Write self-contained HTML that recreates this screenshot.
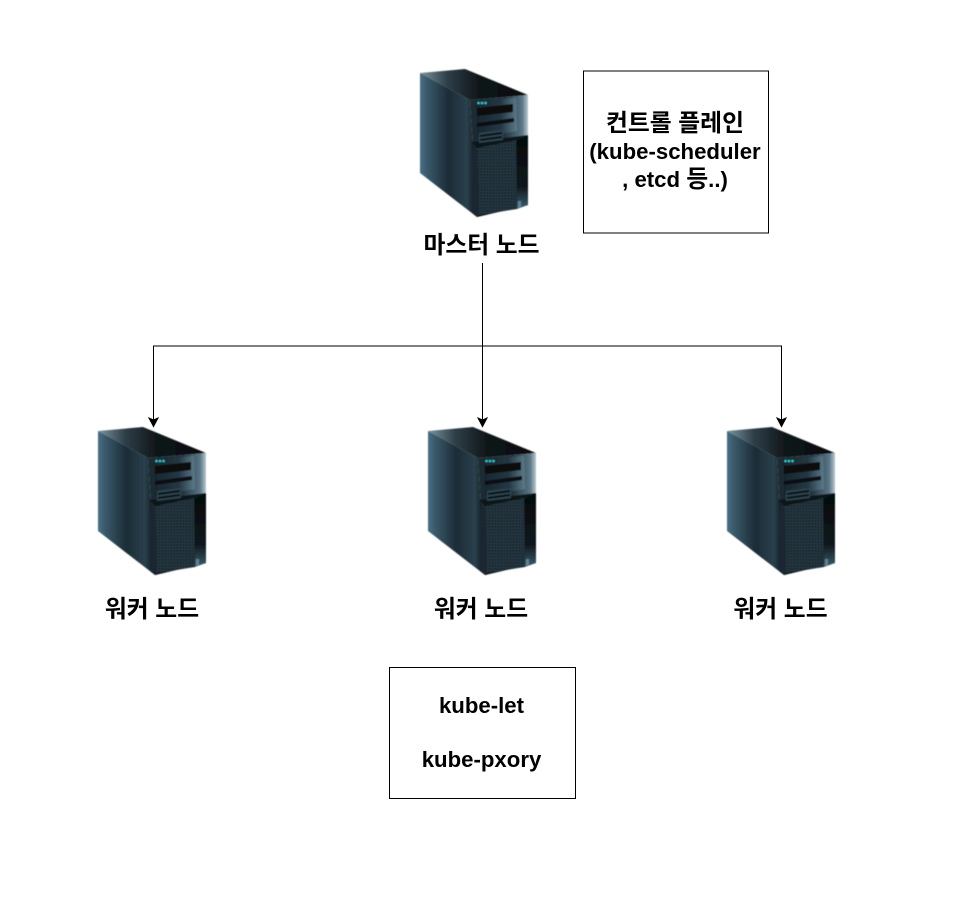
<!DOCTYPE html>
<html><head><meta charset="utf-8"><style>
html,body{margin:0;padding:0;background:#fff}
svg{display:block}
text{font-family:"Liberation Sans","Noto Sans CJK KR",sans-serif;font-weight:bold;font-size:22.2px;fill:#000;text-anchor:middle}
.k{font-size:23.8px}
</style></head><body>
<svg width="980" height="898" viewBox="0 0 980 898" xmlns="http://www.w3.org/2000/svg">
<defs>
<filter id="soft" x="-5%" y="-5%" width="110%" height="110%"><feGaussianBlur stdDeviation="0.45"/></filter>
<linearGradient id="side" x1="0" x2="1" y1="0" y2="0"><stop offset="0" stop-color="#4a6f84"/><stop offset=".12" stop-color="#3a5a6c"/><stop offset=".5" stop-color="#1c2c36"/><stop offset=".82" stop-color="#2a404d"/><stop offset="1" stop-color="#0d161b"/></linearGradient>
<linearGradient id="top" x1="0" x2="1" y1="0" y2="0"><stop offset="0" stop-color="#7b949f"/><stop offset=".25" stop-color="#2e3f48"/><stop offset=".55" stop-color="#0f1518"/><stop offset="1" stop-color="#080c0e"/></linearGradient>
<linearGradient id="front" x1="0" x2="1" y1="0" y2="0"><stop offset="0" stop-color="#1a2932"/><stop offset=".6" stop-color="#22343f"/><stop offset=".9" stop-color="#5b7787"/><stop offset="1" stop-color="#b9c8cf"/></linearGradient>
<linearGradient id="panel" x1="0" x2="1" y1="0" y2="0"><stop offset="0" stop-color="#18262e"/><stop offset=".6" stop-color="#233743"/><stop offset="1" stop-color="#5d7b8a"/></linearGradient>
<linearGradient id="strip" x1="0" x2="0" y1="0" y2="1"><stop offset="0" stop-color="#04080a"/><stop offset=".7" stop-color="#10181d"/><stop offset="1" stop-color="#3d5d6e"/></linearGradient>
<pattern id="mesh" width="3" height="3" patternUnits="userSpaceOnUse"><rect width="3" height="3" fill="#2b3d48"/><rect x="0" y="0" width="2" height="1.4" fill="#111a20"/><rect x="1.5" y="1.5" width="1.5" height="1" fill="#18242b"/></pattern>
<g id="srv" filter="url(#soft)">
<path d="M0 4 45 0 108 26 50 31Z" fill="url(#top)"/>
<path d="M0 4 50 31 57 148 0 104Z" fill="url(#side)"/>
<path d="M50 31 108 26 108 136 57 148Z" fill="url(#front)"/>
<path d="M52 73 108 66 108 136 57 148Z" fill="#0c1317"/>
<path d="M56 32 96 29 97 62 57 69Z" fill="url(#panel)"/>
<path d="M57 39 93 35 93 43 57 47Z" fill="#070b0e"/>
<path d="M57 54 94 49 94 53 57 58Z" fill="#0a0f12"/>
<path d="M59 64 83 61 83 71 59 74Z" fill="#2e4552"/>
<path d="M60 66 82 63 82 65 60 68ZM60 70 82 67 82 69 60 72Z" fill="#070b0e"/>
<circle cx="58.500" cy="34" r="1.300" fill="#35c3c9"/><circle cx="62" cy="34" r="1.300" fill="#35c3c9"/><circle cx="65.500" cy="34" r="1.300" fill="#35c3c9"/>
<path d="M57 79 96 71 97 140 59 146Z" fill="url(#mesh)"/>
<path d="M97 72 108 66 108 136 97 140Z" fill="url(#strip)"/>
<path d="M98 132 101 132 101 138 98 139Z" fill="#5f8191"/>
<path d="M53 74 57 79 59 146 57 148 52 144Z" fill="#1a2831"/>
</g>
</defs>
<use href="#srv" x="420" y="69"/>
<use href="#srv" x="98" y="427"/>
<use href="#srv" x="428" y="427"/>
<use href="#srv" x="727" y="427"/>

<g fill="none" stroke="#000" stroke-width="1">
<path d="M482.500 263V420"/>
<path d="M153.500 420V346H781.500V420"/>
</g>
<g fill="#000" stroke="#000">
<path d="M153.500 426.500 149 418 153.500 420 158 418Z"/>
<path d="M482.500 426.500 478 418 482.500 420 487 418Z"/>
<path d="M781.500 426.500 777 418 781.500 420 786 418Z"/>
</g>

<rect x="583.500" y="71" width="185" height="162" fill="#fff" stroke="#000" stroke-width="1"/>
<rect x="389.500" y="667.500" width="186" height="131" fill="#fff" stroke="#000" stroke-width="1"/>

<text class="k" x="675" y="131">컨트롤 플레인</text>
<text x="675" y="159">(kube-scheduler</text>
<text x="675" y="187">, etcd <tspan class="k">등</tspan>..)</text>
<text class="k" x="481.500" y="253">마스터 노드</text>
<text class="k" x="152" y="617">워커 노드</text>
<text class="k" x="481" y="617">워커 노드</text>
<text class="k" x="780.500" y="617">워커 노드</text>
<text x="481.500" y="713">kube-let</text>
<text x="481.500" y="767">kube-pxory</text>
</svg>
</body></html>
